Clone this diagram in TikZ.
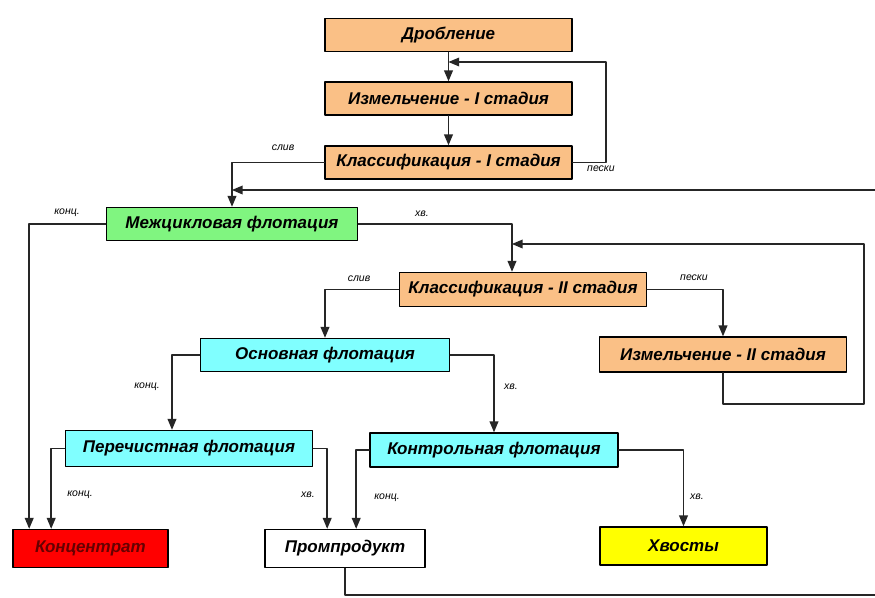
\documentclass[tikz,border=0pt]{standalone}
\usepackage{fontspec}
\setmainfont{Liberation Sans}
\usepackage{pgf,tikz}
\usetikzlibrary{arrows}
\definecolor{rudaor}{RGB}{250,192,134}
\definecolor{mezhgr}{RGB}{128,245,128}
\definecolor{flotcy}{RGB}{128,255,255}
\definecolor{konred}{RGB}{255,0,0}
\definecolor{hvyel}{RGB}{255,255,0}
\tikzset{
  stg/.style={draw=black,line width=1.6pt,minimum width=247pt,minimum height=33pt,inner sep=1pt,font=\fontsize{17}{19}\selectfont\bfseries\itshape},
  lbl/.style={font=\fontsize{10.5}{12}\selectfont\itshape},
  flw/.style={line width=1.5pt,black!85}
}
\begin{document}
\begin{tikzpicture}[line cap=round,line join=round,>=triangle 45,x=1pt,y=-1pt]
\clip(0,0) rectangle (875,597);
\fill[white] (0,0) rectangle (875,597);
\draw (448.5,35) node[stg,fill=rudaor] (drob) {Дробление};
\draw (448.5,98.5) node[stg,fill=rudaor] (izm1) {Измельчение - I стадия};
\draw (448.5,162.5) node[stg,fill=rudaor] (kl1) {Классификация - I стадия};
\draw (232,224) node[stg,fill=mezhgr,minimum width=251pt] (mezh) {Межцикловая флотация};
\draw (523,289.5) node[stg,fill=rudaor,minimum height=34pt] (kl2) {Классификация - II стадия};
\draw (723,354.5) node[stg,fill=rudaor,minimum height=35pt] (izm2) {Измельчение - II стадия};
\draw (325,355) node[stg,fill=flotcy,minimum width=249pt] (osn) {Основная флотация};
\draw (189,448.5) node[stg,fill=flotcy,minimum height=36pt] (per) {Перечистная флотация};
\draw (494,450) node[stg,fill=flotcy,minimum width=248pt,minimum height=34pt] (kontr) {Контрольная флотация};
\draw (90.5,548.5) node[stg,fill=konred,minimum width=155pt,minimum height=38pt,text=red!40!black] (konc) {Концентрат};
\draw (345,548.5) node[stg,fill=white,minimum width=160pt,minimum height=38pt] (prom) {Промпродукт};
\draw (683.5,546) node[stg,fill=hvyel,minimum width=167pt,minimum height=38pt] (hv) {Хвосты};
% returns
\coordinate (ret1) at (448.5,62);
\coordinate (ret2) at (880,190);
\coordinate (ret3) at (512,244);
\coordinate (ret4) at (880,595);
\draw[flw,->] (drob) -- (izm1);
\draw[flw,->] (izm1) -- (kl1);
\draw[flw,->] (kl1.east) -- ++(33,0) |- (ret1);
\draw[flw,->] (kl1.west) -| (mezh.north);
\draw[flw,->] (ret2) -- (mezh.north |- ret2);
\draw[flw,->] (mezh.west) -| ([xshift=17pt]konc.north west);
\draw[flw,->] (mezh.east) -| (ret3 |- kl2.north);
\draw[flw,->] (izm2.south) |- (864,404) |- (ret3);
\draw[flw,->] (kl2.east) -| (izm2.north);
\draw[flw,->] (kl2.west) -| (osn.north);
\draw[flw,->] (osn.west) -| ([xshift=-17pt]per.north);
\draw[flw,->] (osn.east) -| (kontr.north);
\draw[flw,->] (per.west) -| ([xshift=39pt]konc.north west);
\draw[flw,->] (per.east) -| ([xshift=63pt]prom.north west);
\draw[flw,->] (kontr.west) -| ([xshift=92pt]prom.north west);
\draw[flw,->] (kontr.east) -| (hv.north);
\draw[flw] (prom.south) |- (ret4);
% labels
\draw (283,148) node[lbl] (l1) {слив};
\draw (601,169) node[lbl] (l2) {пески};
\draw (67,213) node[lbl] (l3) {конц.};
\draw (422,214) node[lbl] (l4) {хв.};
\draw (359,279) node[lbl] (l5) {слив};
\draw (694,278) node[lbl] (l6) {пески};
\draw (147,387) node[lbl] (l7) {конц.};
\draw (511,387) node[lbl] (l8) {хв.};
\draw (80,495) node[lbl] (l9) {конц.};
\draw (308,495) node[lbl] (l10) {хв.};
\draw (387,498) node[lbl] (l11) {конц.};
\draw (697,497) node[lbl] (l12) {хв.};
\end{tikzpicture}
\end{document}
